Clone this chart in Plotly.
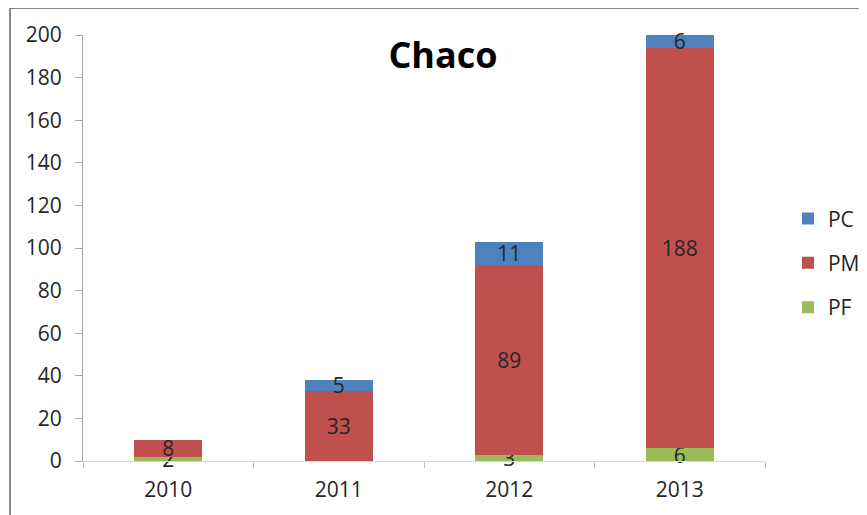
import plotly.graph_objects as go

years = ["2010", "2011", "2012", "2013"]
pf = [2, 0, 3, 6]
pm = [8, 33, 89, 188]
pc = [0, 5, 11, 6]
y_ticks = [0, 20, 40, 60, 80, 100, 120, 140, 160, 180, 200]

FONT = "Open Sans"
series = [("PF", pf, "#9BBB59", 3), ("PM", pm, "#C0504D", 2), ("PC", pc, "#4F81BD", 1)]

# page body has an 8px margin; layout numbers below are figure-relative
W, H = 890, 515
L, T, PW, PH = 75, 27, 682, 426

fig = go.Figure()
for name, vals, col, rank in series:
    fig.add_trace(go.Bar(
        x=years, y=vals, name=name, marker_color=col, marker_line_width=0,
        text=[str(v) if v else "" for v in vals],
        textposition="inside", insidetextanchor="middle", textangle=0,
        constraintext="none", cliponaxis=False,
        textfont=dict(family=FONT, size=21, color="#262626"),
        legendgroup=name, legendrank=rank, hoverinfo="skip",
    ))

fig.update_layout(
    width=W, height=H,
    margin=dict(l=L, r=W - L - PW, t=T, b=H - T - PH),
    barmode="stack", bargap=0.6,
    paper_bgcolor="white", plot_bgcolor="white",
    font=dict(family=FONT, size=21, color="#262626"),
    title=dict(text="<b>Chaco</b>", x=435 / W, xanchor="center", y=1 - 47 / H, yanchor="middle",
               font=dict(family=FONT, size=36, color="#000000")),
    legend=dict(x=1.0337, y=0.465, xanchor="left", yanchor="middle",
                traceorder="grouped", tracegroupgap=14,
                font=dict(family=FONT, size=21, color="#262626"),
                itemwidth=30),
    showlegend=True,
)
fig.update_xaxes(
    type="category", showline=True, linecolor="#D9D9D9", linewidth=1,
    ticks="outside", tickson="boundaries", ticklen=6, tickcolor="#BFBFBF",
    ticklabelstandoff=10,
    showgrid=False, tickfont=dict(family=FONT, size=21, color="#262626"),
)
fig.update_yaxes(
    range=[0, 200], tickvals=y_ticks, showline=True, linecolor="#A6A6A6", linewidth=1,
    ticks="outside", ticklen=7, tickcolor="#A6A6A6", showgrid=False, zeroline=False,
    ticklabelstandoff=9,
    tickfont=dict(family=FONT, size=21, color="#262626"),
)
# outer chart border (left and top edges)
bx = (2 - L) / PW
by = 1 + (T - 0) / PH
fig.add_shape(type="line", xref="paper", yref="paper",
              x0=bx, x1=bx, y0=by, y1=-(H - T - PH + 10) / PH,
              line=dict(color="#878787", width=2))
fig.add_shape(type="line", xref="paper", yref="paper",
              x0=bx, x1=(W - L) / PW, y0=by, y1=by,
              line=dict(color="#878787", width=2))

fig.write_html("out.html")
